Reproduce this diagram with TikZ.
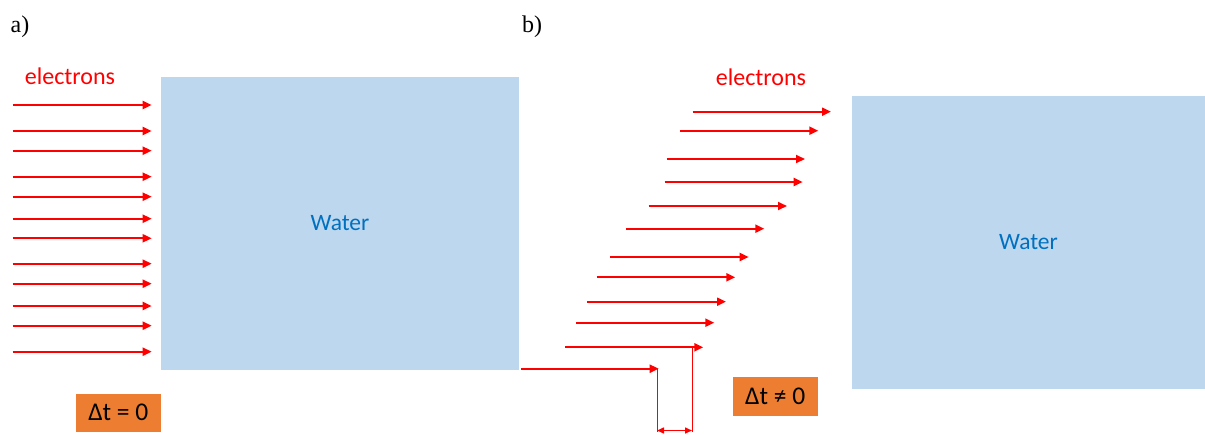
\documentclass[tikz,border=0pt]{standalone}
\usepackage{fontspec}
\setmainfont{Liberation Serif}
\newfontfamily\calfont{Carlito}
\usetikzlibrary{arrows.meta}
\definecolor{eRed}{HTML}{FF0000}
\definecolor{waterBlue}{HTML}{BDD7EE}
\definecolor{waterText}{HTML}{0070C0}
\definecolor{dtOrange}{HTML}{ED7D31}
\begin{document}
\begin{tikzpicture}[x=1pt,y=-1pt,
  beam/.style={draw=eRed, line width=2pt, -{Triangle[length=9pt,width=8pt]}},
  water/.style={fill=waterBlue, draw=none, inner sep=0pt, text=waterText,
    font=\calfont\fontsize{23.5}{27}\selectfont},
  elabel/.style={text=eRed, inner sep=0pt, font=\calfont\fontsize{24}{28}\selectfont},
  dtbox/.style={fill=dtOrange, draw=none, inner sep=0pt, text=black,
    font=\calfont\fontsize{25.5}{29}\selectfont},
  panel/.style={inner sep=0pt, font=\fontsize{24}{28}\selectfont},
  guide/.style={draw=eRed, line width=0.8pt},
  span/.style={draw=eRed, line width=1.5pt, {Triangle[length=7pt,width=6pt]}-{Triangle[length=7pt,width=6pt]}}
]
\useasboundingbox (0,0) rectangle (1205,434);

% panel labels
\node[panel] (pa) at (20,27) {a)};
\node[panel] (pb) at (532,27) {b)};

% water blocks
\node[water, minimum width=358pt, minimum height=293pt] (wa) at (340,223.5) {Water};
\node[water, minimum width=353pt, minimum height=293pt] (wb) at (1028.5,242.5) {Water};

% electrons labels
\node[elabel] (ea) at (70,76) {electrons};
\node[elabel] (eb) at (761,77) {electrons};

% panel a beams
\foreach \i/\y in {1/105,2/131,3/150.7,4/176.7,5/196.7,6/218.7,7/238.3,8/263.7,9/283.7,10/306,11/325.7,12/351.7}{
  \coordinate (as\i) at (12.7,\y);
  \coordinate (ae\i) at (151.7,\y);
  \draw[beam] (as\i) -- (ae\i);
}

% panel b beams
\foreach \i/\xa/\xb/\y in {1/692.7/831/111.7,2/680/818.3/130.7,3/666.7/805/159,4/664.7/802.7/182,
  5/648.7/787/206,6/626/764.3/228.7,7/610/748.7/257,8/596.7/735.3/277.3,
  9/587.3/726/301.7,10/576/714.3/322.7,11/565/703.3/347.3,12/521/658.7/368.7}{
  \coordinate (bs\i) at (\xa,\y);
  \coordinate (be\i) at (\xb,\y);
  \draw[beam] (bs\i) -- (be\i);
}

% delta t boxes
\node[dtbox, minimum width=85pt, minimum height=38pt] (dta) at (118.3,412.8) {Δt = 0};
\node[dtbox, minimum width=85pt, minimum height=39pt] (dtb) at (775.2,396.7) {Δt ≠ 0};

% measurement of the delay
\coordinate (g1t) at (657,369);
\coordinate (g1b) at (657,432);
\coordinate (g2t) at (692,347.3);
\coordinate (g2b) at (692,432);
\coordinate (s1) at (657,430.5);
\coordinate (s2) at (692,430.5);
\draw[guide] (g1t) -- (g1b);
\draw[guide] (g2t) -- (g2b);
\draw[span] (s1) -- (s2);
\end{tikzpicture}
\end{document}
